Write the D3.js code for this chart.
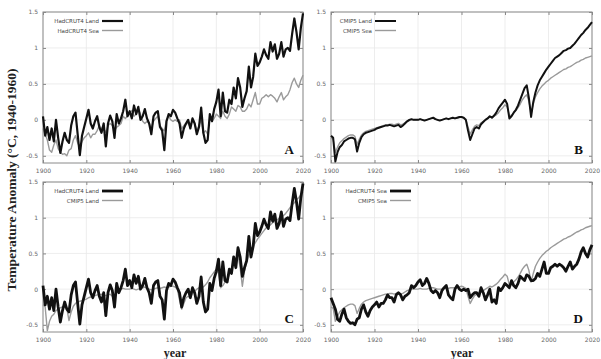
<!DOCTYPE html>
<html><head><meta charset="utf-8">
<script src="https://cdn.jsdelivr.net/npm/d3@7"></script>
<style>body{margin:0;background:#fff}svg{display:block}</style>
</head><body>
<script>
const startYear = 1900;
const xTicks = [1900,1920,1940,1960,1980,2000,2020];
const yTicks = [-0.5,0,0.5,1,1.5];
const yTickLabels = ["-0.5","0","0.5","1","1.5"];

const hadLand = [0.05,-0.22,-0.10,-0.28,-0.12,-0.30,0.00,-0.25,-0.46,-0.30,
-0.18,-0.28,-0.32,-0.08,0.05,0.10,-0.20,-0.49,-0.22,-0.10,
0.02,0.14,-0.05,-0.12,-0.02,0.05,-0.10,-0.18,-0.05,-0.37,
-0.05,0.06,-0.02,-0.25,0.08,-0.05,0.02,0.12,0.28,0.05,
0.12,0.02,0.20,0.08,0.18,0.00,0.05,0.15,0.02,-0.05,
-0.20,0.05,0.10,0.12,-0.10,-0.15,-0.42,-0.02,0.08,0.05,
0.14,0.10,0.02,-0.05,-0.25,-0.12,-0.05,0.00,-0.12,0.02,
-0.05,-0.20,-0.10,0.17,-0.18,-0.32,-0.28,0.08,-0.02,0.15,
0.25,0.42,0.05,0.38,0.12,0.10,0.28,0.22,0.45,0.30,
0.58,0.45,0.18,0.30,0.40,0.74,0.45,0.60,0.92,0.75,
0.80,0.88,0.98,0.90,0.85,1.08,0.95,1.05,0.85,0.92,
1.08,0.88,0.98,1.00,0.96,1.20,1.41,1.22,0.98,1.28,1.48];

const hadSea = [-0.12,-0.20,-0.28,-0.42,-0.45,-0.35,-0.28,-0.40,-0.45,-0.48,
-0.47,-0.50,-0.42,-0.40,-0.28,-0.22,-0.32,-0.38,-0.30,-0.25,
-0.22,-0.18,-0.25,-0.20,-0.20,-0.15,-0.08,-0.12,-0.12,-0.18,
-0.08,-0.05,-0.08,-0.15,-0.10,-0.08,-0.05,0.05,0.02,0.05,
0.10,0.13,0.05,0.08,0.15,0.08,-0.02,-0.05,-0.02,-0.05,
-0.12,-0.02,0.02,0.05,-0.08,-0.12,-0.15,0.00,0.05,0.00,
-0.02,0.00,-0.02,0.00,-0.12,-0.08,-0.05,-0.05,-0.10,0.02,
-0.05,-0.15,-0.08,0.00,-0.18,-0.15,-0.20,0.02,-0.02,0.02,
0.08,0.05,0.02,0.12,0.05,0.02,0.08,0.18,0.15,0.12,
0.20,0.18,0.12,0.12,0.15,0.22,0.18,0.28,0.38,0.22,
0.22,0.30,0.32,0.35,0.32,0.35,0.33,0.30,0.25,0.32,
0.38,0.28,0.32,0.35,0.42,0.52,0.58,0.50,0.45,0.55,0.62];

const cmipLand = [-0.22,-0.25,-0.58,-0.45,-0.38,-0.35,-0.30,-0.28,-0.26,-0.25,
-0.25,-0.27,-0.44,-0.32,-0.24,-0.20,-0.18,-0.17,-0.16,-0.15,
-0.14,-0.12,-0.11,-0.10,-0.09,-0.08,-0.08,-0.07,-0.08,-0.09,
-0.08,-0.07,-0.10,-0.08,-0.05,-0.02,0.00,0.01,0.00,0.00,
0.00,0.01,0.00,-0.01,0.00,0.01,0.02,0.03,0.01,0.00,
-0.01,0.00,0.01,0.02,0.01,0.02,0.03,0.02,0.03,0.04,
0.04,0.03,0.00,-0.15,-0.28,-0.20,-0.12,-0.10,-0.12,-0.06,
-0.03,0.00,0.02,0.05,0.03,0.06,0.10,0.16,0.20,0.24,
0.28,0.22,0.02,0.05,0.10,0.14,0.20,0.28,0.36,0.44,
0.48,0.30,0.04,0.25,0.38,0.48,0.55,0.60,0.65,0.70,
0.74,0.78,0.82,0.86,0.88,0.90,0.93,0.96,0.97,0.99,
1.00,1.03,1.06,1.10,1.14,1.18,1.21,1.25,1.28,1.32,1.36];

const cmipSea = [-0.25,-0.27,-0.45,-0.38,-0.32,-0.29,-0.26,-0.24,-0.22,-0.21,
-0.21,-0.23,-0.34,-0.27,-0.21,-0.18,-0.16,-0.15,-0.14,-0.13,
-0.12,-0.11,-0.10,-0.09,-0.08,-0.07,-0.07,-0.06,-0.06,-0.07,
-0.06,-0.05,-0.07,-0.06,-0.04,-0.02,-0.01,0.00,0.00,0.00,
0.00,0.01,0.00,0.00,0.00,0.01,0.02,0.02,0.01,0.00,
0.00,0.00,0.01,0.02,0.01,0.02,0.02,0.02,0.03,0.03,
0.04,0.03,0.01,-0.10,-0.20,-0.14,-0.09,-0.07,-0.08,-0.04,
-0.02,0.00,0.02,0.04,0.03,0.05,0.07,0.10,0.14,0.17,
0.21,0.18,0.06,0.06,0.10,0.13,0.17,0.22,0.28,0.32,
0.35,0.26,0.10,0.22,0.32,0.38,0.43,0.47,0.50,0.53,
0.55,0.58,0.60,0.62,0.64,0.66,0.68,0.70,0.71,0.73,
0.74,0.76,0.78,0.80,0.81,0.83,0.84,0.86,0.87,0.88,0.89];

const panels = [
  {letter:"A", x0:43, x1:303, y0:12, y1:163, lx:"left", series:[
    {name:"HadCRUT4 Land", data:hadLand, color:"#111", width:2.2},
    {name:"HadCRUT4 Sea", data:hadSea, color:"#9a9a9a", width:1.4}]},
  {letter:"B", x0:331, x1:592, y0:12, y1:163, lx:"left", series:[
    {name:"CMIP5 Land", data:cmipLand, color:"#111", width:2.0},
    {name:"CMIP5 Sea", data:cmipSea, color:"#9a9a9a", width:1.4}]},
  {letter:"C", x0:43, x1:303, y0:182, y1:332, lx:"right", series:[
    {name:"HadCRUT4 Land", data:hadLand, color:"#111", width:2.8},
    {name:"CMIP5 Land", data:cmipLand, color:"#9a9a9a", width:1.4}]},
  {letter:"D", x0:331, x1:592, y0:182, y1:332, lx:"right", series:[
    {name:"HadCRUT4 Sea", data:hadSea, color:"#111", width:2.8},
    {name:"CMIP5 Sea", data:cmipSea, color:"#9a9a9a", width:1.4}]}
];
// draw order: gray first then black for visual layering, except keep legend order
const W = 601, H = 359;
const svg = d3.select("body").append("svg").attr("width", W).attr("height", H);

panels.forEach(p => {
  const x = d3.scaleLinear().domain([1900, 2020]).range([p.x0, p.x1]);
  const y = d3.scaleLinear().domain([-0.6, 1.5]).range([p.y1, p.y0]);
  const g = svg.append("g");
  // grid
  g.append("g").selectAll("line.v").data(xTicks).join("line")
    .attr("x1", d => x(d)).attr("x2", d => x(d)).attr("y1", p.y0).attr("y2", p.y1)
    .attr("stroke", "#e8e8e8").attr("stroke-width", 0.8);
  g.append("g").selectAll("line.h").data(yTicks).join("line")
    .attr("x1", p.x0).attr("x2", p.x1).attr("y1", d => y(d)).attr("y2", d => y(d))
    .attr("stroke", "#e8e8e8").attr("stroke-width", 0.8);
  // axes
  const ax = d3.axisBottom(x).tickValues(xTicks).tickFormat(d3.format("d")).tickSize(-3).tickPadding(6);
  const axT = d3.axisTop(x).tickValues(xTicks).tickFormat("").tickSize(-3);
  const ay = d3.axisLeft(y).tickValues(yTicks).tickFormat((d,i) => yTickLabels[i]).tickSize(-3).tickPadding(5);
  const ayR = d3.axisRight(y).tickValues(yTicks).tickFormat("").tickSize(-3);
  [[ax, `translate(0,${p.y1})`], [axT, `translate(0,${p.y0})`], [ay, `translate(${p.x0},0)`], [ayR, `translate(${p.x1},0)`]].forEach(([a, t]) => {
    const ag = g.append("g").attr("transform", t).call(a);
    ag.select(".domain").remove();
    ag.selectAll("line").attr("stroke", "#888");
    ag.selectAll("text").attr("font-family", "DejaVu Sans, sans-serif").attr("font-size", 6).attr("fill", "#666");
  });
  // frame
  g.append("rect").attr("x", p.x0).attr("y", p.y0).attr("width", p.x1 - p.x0).attr("height", p.y1 - p.y0)
    .attr("fill", "none").attr("stroke", "#8a8a8a").attr("stroke-width", 1);
  // lines
  const line = d3.line().x((d, i) => x(startYear + i)).y(d => y(d));
  const order = p.series.slice().reverse();
  order.forEach(s => {
    g.append("path").datum(s.data).attr("d", line).attr("fill", "none")
      .attr("stroke", s.color).attr("stroke-width", s.width).attr("stroke-linejoin", "round");
  });
  // legend
  p.series.forEach((s, i) => {
    const ly = p.y0 + 9 + i * 9.5;
    const lineX0 = p.lx === "left" ? (p.letter === "A" ? p.x0 + 59 : p.x0 + 44) : p.x0 + 59;
    g.append("line").attr("x1", lineX0).attr("x2", lineX0 + 21).attr("y1", ly).attr("y2", ly)
      .attr("stroke", s.color).attr("stroke-width", s.width);
    g.append("text").attr("x", lineX0 - 3).attr("y", ly + 2)
      .attr("text-anchor", "end").attr("font-family", "DejaVu Sans, sans-serif").attr("font-size", 5.5).attr("fill", "#444")
      .text(s.name);
  });
  // panel letter
  g.append("text").attr("x", p.x1 - 9).attr("y", p.y1 - 9).attr("text-anchor", "end")
    .attr("font-family", "Liberation Serif, serif").attr("font-weight", "bold").attr("font-size", 13)
    .attr("fill", "#111").text(p.letter);
});

svg.append("text").attr("transform", "translate(16,180) rotate(-90)").attr("text-anchor", "middle")
  .attr("font-family", "Liberation Serif, serif").attr("font-weight", "bold").attr("font-size", 13.5)
  .attr("fill", "#222").text("Temperature Anomaly (°C, 1940-1960)");
[[175, "year"], [462, "year"]].forEach(([cx, t]) => {
  svg.append("text").attr("x", cx).attr("y", 357).attr("text-anchor", "middle")
    .attr("font-family", "Liberation Serif, serif").attr("font-weight", "bold").attr("font-size", 12)
    .attr("fill", "#222").text(t);
});
</script>
</body></html>
